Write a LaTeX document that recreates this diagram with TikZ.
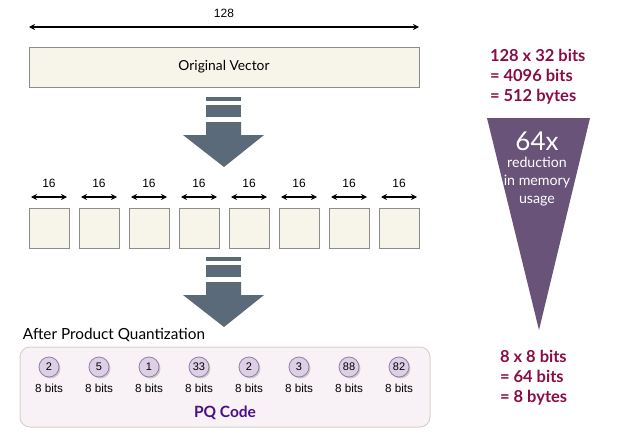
\documentclass[tikz,border=0pt]{standalone}
\usepackage{fontspec}
\setmainfont{Liberation Sans}
\newfontfamily\comic{Lato}
\usetikzlibrary{arrows.meta,calc,positioning,shadows}

\definecolor{cream}{HTML}{F7F4EA}
\definecolor{boxgray}{HTML}{8C8C8C}
\definecolor{slate}{HTML}{5B6A78}
\definecolor{lav}{HTML}{DDD0E6}
\definecolor{lavdraw}{HTML}{8F7FA0}
\definecolor{pqfill}{HTML}{F8F2F6}
\definecolor{pqdraw}{HTML}{D6D3CB}
\definecolor{maroon}{HTML}{8A0C45}
\definecolor{pqpurple}{HTML}{4B0F8A}
\definecolor{funnel}{HTML}{6A5378}

% the slate "down" arrow, top centre at #1
\newcommand\pqarrow[1]{%
  \fill[slate] ($(#1)+(-18,0)$) rectangle ++(35,4);
  \fill[slate] ($(#1)+(-18,8)$) rectangle ++(35,12);
  \fill[slate] ($(#1)+(-18,25)$) -- ++(35,0) -- ++(0,13) -- ++(23,0)
     -- ($(#1)+(0,70)$) -- ($(#1)+(-41,38)$) -- ++(23,0) -- cycle;}

\begin{document}
\begin{tikzpicture}[x=1pt,y=-1pt,
  every node/.style={inner sep=0pt,outer sep=0pt,font=\fontsize{12}{14}\selectfont},
  chunk/.style={draw=boxgray,fill=cream,line width=0.8pt,minimum width=40pt,minimum height=40pt,node distance=10pt},
  dim/.style={{Stealth[length=6pt,width=6pt]}-{Stealth[length=6pt,width=6pt]},line width=1.2pt},
  code/.style={circle,draw=lavdraw,fill=lav,line width=0.8pt,minimum size=20pt,node distance=30pt,
    drop shadow={shadow xshift=1.5pt,shadow yshift=-1.5pt,opacity=0.35},
    font=\fontsize{11}{13}\selectfont,
    label={[font=\fontsize{11.7}{14}\selectfont,label distance=7pt]below:8 bits}},
  info/.style={align=left,text=maroon,font=\comic\bfseries\fontsize{16.5}{20}\selectfont}]

  \useasboundingbox (0,0) rectangle (627,436);

  \node (orig) [draw=boxgray,fill=cream,line width=0.8pt,minimum width=390pt,minimum height=40pt,
     font=\comic\fontsize{13.8}{16}\selectfont] at (224,67) {Original Vector};
  \draw[dim] ([yshift=20pt]orig.north west) -- ([yshift=20pt]orig.north east)
     node[midway,above=9pt] {128};

  \coordinate (ar1) at ($(orig.south)+(0,10)$);
  \pqarrow{ar1}

  \node (c1) [chunk] at (49,228) {};
  \node (c2) [chunk,right = of c1] {};
  \node (c3) [chunk,right = of c2] {};
  \node (c4) [chunk,right = of c3] {};
  \node (c5) [chunk,right = of c4] {};
  \node (c6) [chunk,right = of c5] {};
  \node (c7) [chunk,right = of c6] {};
  \node (c8) [chunk,right = of c7] {};

  \draw[dim] ([shift={(2pt,11pt)}]c1.north west) -- ([shift={(-2pt,11pt)}]c1.north east) node[midway,above=9pt] {16};
  \draw[dim] ([shift={(2pt,11pt)}]c2.north west) -- ([shift={(-2pt,11pt)}]c2.north east) node[midway,above=9pt] {16};
  \draw[dim] ([shift={(2pt,11pt)}]c3.north west) -- ([shift={(-2pt,11pt)}]c3.north east) node[midway,above=9pt] {16};
  \draw[dim] ([shift={(2pt,11pt)}]c4.north west) -- ([shift={(-2pt,11pt)}]c4.north east) node[midway,above=9pt] {16};
  \draw[dim] ([shift={(2pt,11pt)}]c5.north west) -- ([shift={(-2pt,11pt)}]c5.north east) node[midway,above=9pt] {16};
  \draw[dim] ([shift={(2pt,11pt)}]c6.north west) -- ([shift={(-2pt,11pt)}]c6.north east) node[midway,above=9pt] {16};
  \draw[dim] ([shift={(2pt,11pt)}]c7.north west) -- ([shift={(-2pt,11pt)}]c7.north east) node[midway,above=9pt] {16};
  \draw[dim] ([shift={(2pt,11pt)}]c8.north west) -- ([shift={(-2pt,11pt)}]c8.north east) node[midway,above=9pt] {16};

  \coordinate (ar2) at ($(c4.south east)!0.5!(c5.south west)+(0,9)$);
  \pqarrow{ar2}

  \node (pq) [draw=pqdraw,fill=pqfill,line width=1pt,rounded corners=10pt,
     minimum width=410pt,minimum height=80pt] at (225,387) {};
  \node (after) [anchor=base west,font=\comic\fontsize{15.3}{18}\selectfont]
     at ([shift={(3pt,8pt)}]pq.north west) {After Product Quantization};

  \node (q1) [code] at (49,367) {2};
  \node (q2) [code,right = of q1] {5};
  \node (q3) [code,right = of q2] {1};
  \node (q4) [code,right = of q3] {33};
  \node (q5) [code,right = of q4] {2};
  \node (q6) [code,right = of q5] {3};
  \node (q7) [code,right = of q6] {88};
  \node (q8) [code,right = of q7] {82};

  \node (pqcode) [text=pqpurple,font=\comic\bfseries\fontsize{15.5}{18}\selectfont]
     at ($(pq.south)+(0,-14)$) {PQ Code};

  % memory funnel
  \fill[funnel] (487,118) -- (590,118) -- (539,330) -- cycle;
  \node (ratio) [text=white,font=\comic\fontsize{26}{28}\selectfont] at (537,141) {64x};
  \node (reduce) [below = 7pt of ratio,align=center,text=white,font=\comic\fontsize{14.2}{18}\selectfont]
     {reduction\\in memory\\usage};

  \node (memin) [info,anchor=west] at (490,77) {128 x 32 bits\\= 4096 bits\\= 512 bytes};
  \node (memout) [info,anchor=west] at (500,378) {8 x 8 bits\\= 64 bits\\= 8 bytes};
\end{tikzpicture}
\end{document}
